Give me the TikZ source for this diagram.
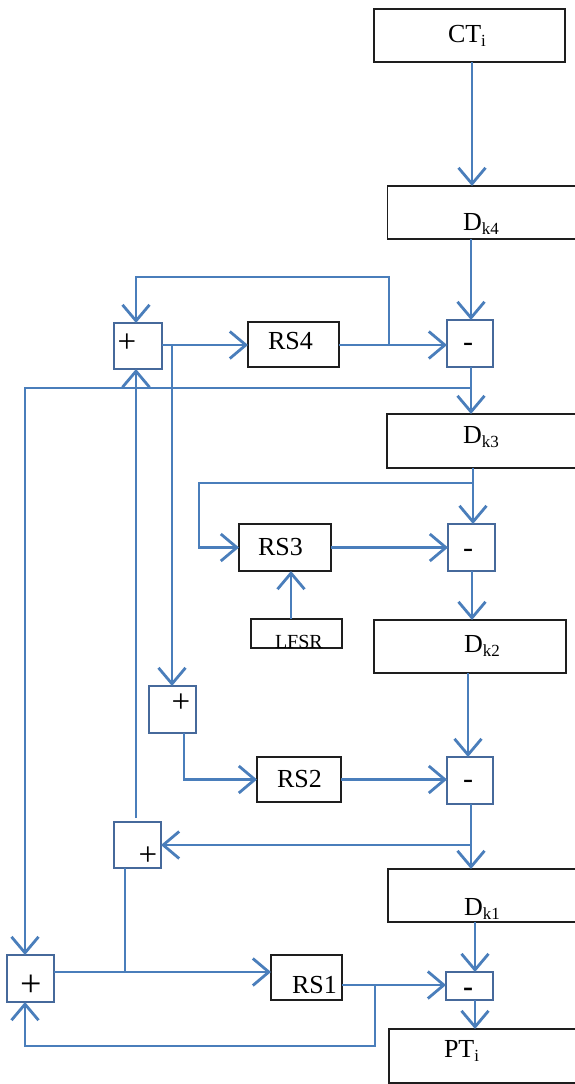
\documentclass[tikz,border=0pt]{standalone}
\usepackage{fontspec}
\setmainfont{Liberation Serif}
\usetikzlibrary{arrows.meta}
\definecolor{lineblue}{RGB}{74,126,187}
\definecolor{opborder}{RGB}{70,105,155}
\definecolor{boxborder}{RGB}{30,30,30}
\tikzset{
  tbox/.style={draw=boxborder, line width=1.3pt, fill=white, inner sep=0pt, outer sep=0pt},
  opbox/.style={draw=opborder, line width=1.2pt, fill=white, inner sep=0pt, outer sep=0pt},
  conn/.style={draw=lineblue, line width=2.8pt},
  arr/.style={conn, -{Straight Barb[length=16pt,width=27pt,line width=2.8pt]}},
  lbl/.style={inner sep=0pt, outer sep=0pt, anchor=base west, font=\fontsize{26}{28}\selectfont},
  smalllbl/.style={inner sep=0pt, outer sep=0pt, anchor=base west, font=\fontsize{20}{22}\selectfont},
  sign/.style={inner sep=0pt, outer sep=0pt, anchor=center, font=\fontsize{33}{35}\selectfont}
}
\newcommand{\sbs}[1]{\raisebox{-4pt}{\fontsize{17}{18}\selectfont #1}}
\begin{document}
\begin{tikzpicture}[x=1pt,y=-1pt]
\useasboundingbox (0,0) rectangle (575,1084);

% ---- boxes ----
\node[tbox, minimum width=191pt, minimum height=53pt] (ct)  at (469.5,35.5) {};
\node[tbox, minimum width=191pt, minimum height=53pt] (dk4) at (483,212.5) {};
\node[opbox, minimum width=46pt, minimum height=47pt] (m1)  at (470,343.5) {};
\node[opbox, minimum width=48pt, minimum height=46pt] (p1)  at (138,346) {};
\node[tbox, minimum width=91pt, minimum height=45pt] (rs4) at (293.5,344.5) {};
\node[tbox, minimum width=191pt, minimum height=54pt] (dk3) at (482.5,441) {};
\node[tbox, minimum width=92pt, minimum height=47pt] (rs3) at (285,547.5) {};
\node[opbox, minimum width=47pt, minimum height=47pt] (m2)  at (471.5,547.5) {};
\node[tbox, minimum width=91pt, minimum height=29pt] (lfsr) at (296.5,633.5) {};
\node[tbox, minimum width=192pt, minimum height=53pt] (dk2) at (470,646.5) {};
\node[opbox, minimum width=47pt, minimum height=47pt] (p3)  at (172.5,709.5) {};
\node[tbox, minimum width=84pt, minimum height=45pt] (rs2) at (299,779.5) {};
\node[opbox, minimum width=46pt, minimum height=47pt] (m3)  at (470,780.5) {};
\node[opbox, minimum width=47pt, minimum height=46pt] (p4)  at (137.5,845) {};
\node[tbox, minimum width=190pt, minimum height=53pt] (dk1) at (483,895.5) {};
\node[opbox, minimum width=47pt, minimum height=47pt] (p5)  at (30.5,978.5) {};
\node[tbox, minimum width=71pt, minimum height=45pt] (rs1) at (306.5,977.5) {};
\node[opbox, minimum width=47pt, minimum height=28pt] (m4)  at (469.5,986) {};
\node[tbox, minimum width=189pt, minimum height=54pt] (pt)  at (483.5,1056) {};

% ---- texts ----
\node[lbl] (ctt)  at (448,42)  {CT\sbs{i}};
\node[lbl] (dk4t) at (463,230) {D\sbs{k4}};
\node[lbl] (dk3t) at (463,443) {D\sbs{k3}};
\node[lbl] (dk2t) at (464,652) {D\sbs{k2}};
\node[lbl] (dk1t) at (464,915) {D\sbs{k1}};
\node[lbl] (ptt)  at (444,1057) {PT\sbs{i}};
\node[lbl] (rs4t) at (268,349) {RS4};
\node[lbl] (rs3t) at (258,555) {RS3};
\node[lbl] (rs2t) at (277,787) {RS2};
\node[lbl] (rs1t) at (292,993) {RS1};
\node[smalllbl] (lfsrt) at (275,648) {LFSR};
\node[sign] (p1t) at (127,343) {+};
\node[sign] (p3t) at (181,703) {+};
\node[sign] (p4t) at (148,856) {+};
\node[sign, font=\fontsize{38}{40}\selectfont] (p5t) at (31,986) {+};
\node[sign, font=\fontsize{30}{32}\selectfont] (m1t) at (468,347) {-};
\node[sign, font=\fontsize{30}{32}\selectfont] (m2t) at (468,553) {-};
\node[sign, font=\fontsize{30}{32}\selectfont] (m3t) at (468,784) {-};
\node[sign, font=\fontsize{30}{32}\selectfont\bfseries] (m4t) at (468,992) {-};

% ---- helper coordinates ----
\coordinate (x472) at (472,0);
\coordinate (x471) at (471,0);
\coordinate (x468) at (468,0);
\coordinate (x475) at (475,0);
\coordinate (x473) at (473,0);
\coordinate (x136) at (136,0);
\coordinate (x184) at (184,0);
\coordinate (x291) at (291,0);
\coordinate (y345) at (0,345);
\coordinate (y985) at (0,985);
\coordinate (b4) at (389,345);
\coordinate (t4) at (136,277);
\coordinate (b1) at (172,345);
\coordinate (j1) at (471,388);
\coordinate (c1) at (25,388);
\coordinate (j2) at (473,483);
\coordinate (c2) at (199,483);
\coordinate (j3) at (471,845);
\coordinate (j4) at (125,972);
\coordinate (j5) at (375,985);
\coordinate (c5) at (25,1046);

% ---- connectors ----
\draw[arr] (ct.south -| x472) -- (dk4.north -| x472);
\draw[arr] (dk4.south -| x471) -- (m1.north -| x471);
\draw[arr] (p1.east |- y345) -- (rs4.west |- y345);
\draw[arr] (rs4.east |- y345) -- (m1.west |- y345);
\draw[arr] (b4) |- (t4) -- (p1.north -| t4);
\draw[arr] (b1) -- (p3.north -| b1);
\draw[arr] (m1.south -| x471) -- (dk3.north -| x471);
\draw[arr] (j1) -- (c1) -- (p5.north -| c1);
\draw[arr] (dk3.south -| x473) -- (m2.north -| x473);
\draw[arr] (j2) -- (c2) |- (rs3.west);
\draw[arr] (rs3.east) -- (m2.west);
\draw[arr] (lfsr.north -| x291) -- (rs3.south -| x291);
\draw[arr] (m2.south -| x472) -- (dk2.north -| x472);
\draw[arr] (dk2.south -| x468) -- (m3.north -| x468);
\draw[arr] (p3.south -| x184) |- (rs2.west);
\draw[arr] (rs2.east) -- (m3.west |- rs2.east);
\draw[arr] (m3.south -| x471) -- (dk1.north -| x471);
\draw[arr] (j3) -- (p4.east);
\draw[arr, shorten <=4pt] (p4.north -| x136) -- (p1.south -| x136);
\draw[conn] (p4.south -| j4) -- (j4);
\draw[arr] (p5.east |- j4) -- (rs1.west |- j4);
\draw[arr] (rs1.east |- y985) -- (m4.west |- y985);
\draw[arr] (j5) |- (c5) -- (p5.south -| c5);
\draw[arr] (dk1.south -| x475) -- (m4.north -| x475);
\draw[arr] (m4.south -| x475) -- (pt.north -| x475);
\end{tikzpicture}
\end{document}
